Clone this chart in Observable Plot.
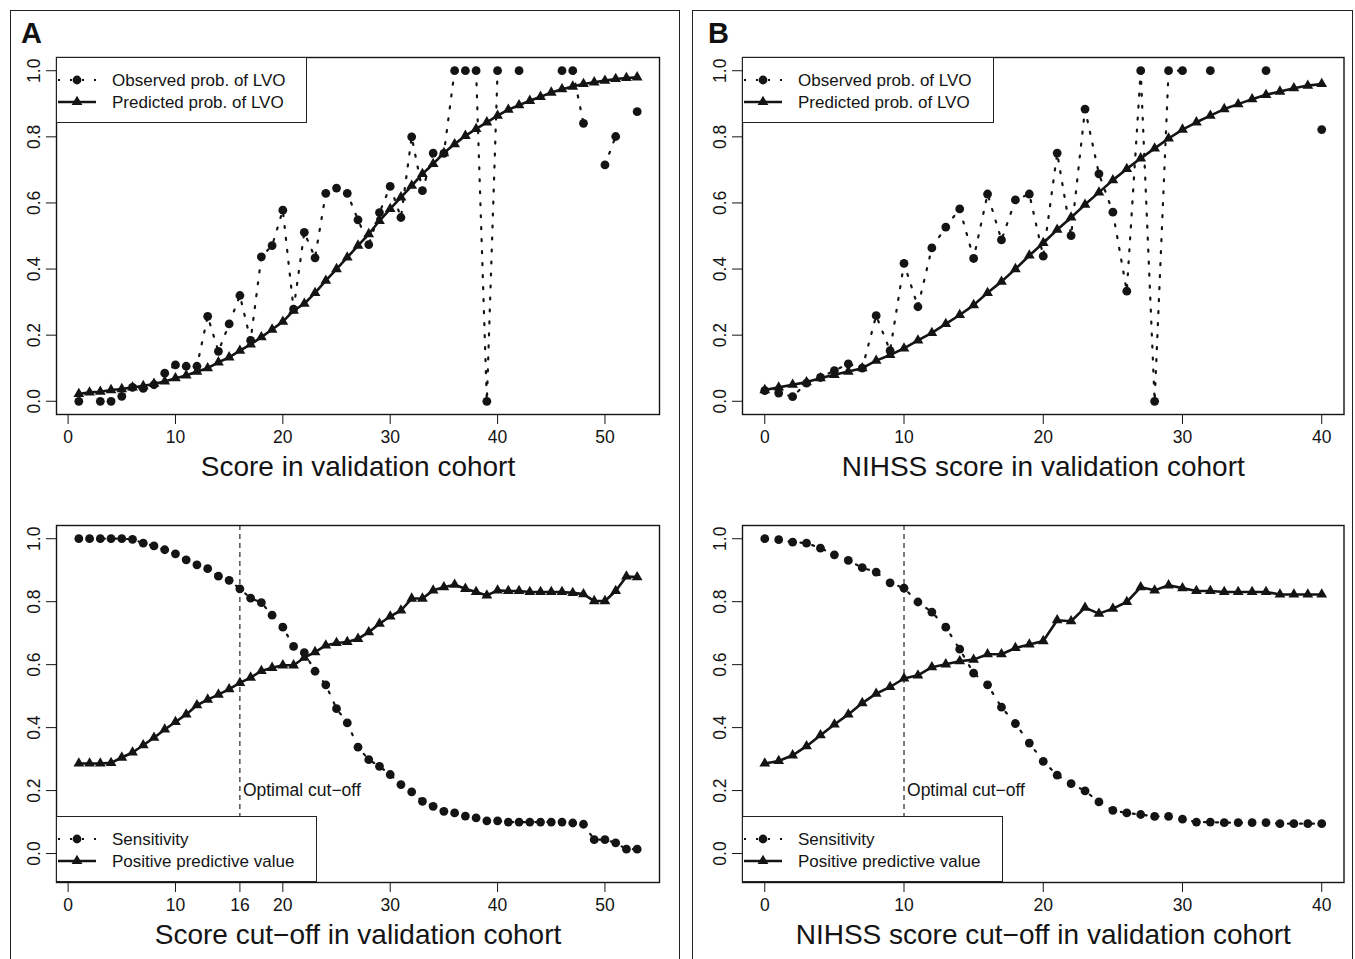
<!DOCTYPE html>
<html>
<head>
<meta charset="utf-8">
<script src="https://cdn.jsdelivr.net/npm/d3@7"></script>
<script src="https://cdn.jsdelivr.net/npm/@observablehq/plot@0.6"></script>
<style>
  html, body { margin: 0; padding: 0; background: #fff; }
  #root { position: relative; width: 1355px; height: 959px; overflow: hidden; font-family: "Liberation Sans", Arial, Helvetica, sans-serif; color: #111; }
  #root svg.plot { position: absolute; }
  .outer { position: absolute; border: 1.4px solid #222; border-bottom: none; box-sizing: border-box; }
  .tag { position: absolute; font-weight: bold; font-size: 29px; line-height: 1; }
  .legend { position: absolute; background: #fff; border: 1.3px solid #222; box-sizing: border-box; }
</style>
</head>
<body>
<div id="root"></div>
<script>
// ---------------- data ----------------
// Panel A (Score)
const scoreA = [1,2,3,4,5,6,7,8,9,10,11,12,13,14,15,16,17,18,19,20,21,22,23,24,25,26,27,28,29,30,31,32,33,34,35,36,37,38,39,40,41,42,43,44,45,46,47,48,49,50,51,52,53];
const observedA = [0.0,null,0.0,0.0,0.015,0.042,0.039,0.05,0.085,0.110,0.106,0.106,0.257,0.151,0.234,0.320,0.184,0.437,0.471,0.578,0.279,0.511,0.434,0.629,0.645,0.629,0.549,0.474,0.571,0.650,0.556,0.800,0.637,0.751,0.750,1,1,1,0,1,null,1,null,null,null,1,1,0.841,null,0.715,0.801,null,0.876];
const predictedA = [0.022,0.027,0.029,0.034,0.037,0.042,0.046,0.053,0.060,0.070,0.078,0.090,0.100,0.118,0.133,0.153,0.172,0.194,0.217,0.241,0.274,0.295,0.328,0.365,0.400,0.435,0.471,0.506,0.546,0.582,0.617,0.652,0.688,0.718,0.751,0.778,0.803,0.824,0.844,0.864,0.882,0.896,0.909,0.921,0.934,0.944,0.952,0.960,0.965,0.970,0.975,0.978,0.980];
const sensitivityA = [1,1,1,1,1,0.998,0.986,0.977,0.965,0.952,0.933,0.917,0.905,0.881,0.868,0.841,0.811,0.797,0.757,0.719,0.658,0.638,0.579,0.536,0.460,0.415,0.338,0.298,0.277,0.251,0.219,0.196,0.166,0.150,0.134,0.129,0.119,0.113,0.104,0.104,0.100,0.100,0.100,0.100,0.100,0.100,0.097,0.093,0.044,0.044,0.034,0.014,0.014];
const ppvA = [0.286,0.286,0.286,0.288,0.305,0.321,0.344,0.368,0.394,0.418,0.442,0.471,0.489,0.505,0.522,0.542,0.559,0.580,0.590,0.598,0.598,0.622,0.640,0.661,0.669,0.672,0.682,0.703,0.730,0.753,0.772,0.810,0.810,0.836,0.846,0.854,0.841,0.831,0.820,0.836,0.834,0.834,0.831,0.831,0.831,0.831,0.828,0.824,0.802,0.802,0.834,0.880,0.878];
const cutoffA = 16;
const xTicksA = [0,10,20,30,40,50];
const xTicksCutA = [0,10,16,20,30,40,50];

// Panel B (NIHSS)
const scoreB = [0,1,2,3,4,5,6,7,8,9,10,11,12,13,14,15,16,17,18,19,20,21,22,23,24,25,26,27,28,29,30,31,32,33,34,35,36,37,38,39,40];
const observedB = [0.032,0.025,0.014,0.055,0.072,0.093,0.113,0.100,0.259,0.153,0.417,0.286,0.464,0.527,0.582,0.432,0.627,0.488,0.609,0.627,0.439,0.751,0.501,0.884,0.688,0.572,0.333,1,0,1,1,null,1,null,null,null,1,null,null,null,0.822];
const predictedB = [0.034,0.042,0.050,0.058,0.070,0.080,0.090,0.100,0.123,0.140,0.160,0.184,0.207,0.234,0.261,0.291,0.328,0.362,0.400,0.441,0.479,0.519,0.556,0.595,0.632,0.669,0.703,0.735,0.765,0.795,0.822,0.844,0.864,0.884,0.899,0.914,0.927,0.937,0.947,0.955,0.960];
const sensitivityB = [1.0,0.997,0.989,0.986,0.970,0.949,0.931,0.908,0.894,0.860,0.843,0.799,0.767,0.719,0.649,0.573,0.536,0.465,0.413,0.351,0.293,0.249,0.222,0.199,0.164,0.137,0.129,0.124,0.118,0.118,0.109,0.100,0.100,0.098,0.098,0.098,0.098,0.095,0.095,0.095,0.095];
const ppvB = [0.286,0.294,0.312,0.341,0.376,0.410,0.442,0.478,0.508,0.529,0.556,0.566,0.592,0.601,0.611,0.616,0.633,0.633,0.653,0.664,0.675,0.741,0.738,0.781,0.762,0.778,0.799,0.846,0.836,0.852,0.843,0.834,0.834,0.831,0.831,0.831,0.831,0.823,0.823,0.823,0.823];
const cutoffB = 10;
const xTicksB = [0,10,20,30,40];

const yTicks = [0,0.2,0.4,0.6,0.8,1.0];
const cutLabelY = 0.2;
const cutLabel = "Optimal cut\u2212off";
const titles = {
  aTop: "Score in validation cohort",
  aBot: "Score cut\u2212off in validation cohort",
  bTop: "NIHSS score in validation cohort",
  bBot: "NIHSS score cut\u2212off in validation cohort"
};
const legendTop = ["Observed prob. of LVO", "Predicted prob. of LVO"];
const legendBot = ["Sensitivity", "Positive predictive value"];

// ---------------- drawing ----------------
const INK = "#141414";
const DOTTED = "2,10";
const FONT = '"Liberation Sans", Arial, Helvetica, sans-serif';
const TICKFONT = 17.5;
const root = document.getElementById("root");

function rows(xs, a, b) { return xs.map((x, i) => ({x, a: a[i] == null ? NaN : a[i], b: b[i] == null ? NaN : b[i]})); }

function panel(o) {
  const data = rows(o.xs, o.a, o.b);
  const marks = [
    Plot.axisX({ticks: o.xTicks, tickSize: 10, tickPadding: 6, fontSize: TICKFONT, label: null, tickFormat: d => String(d), stroke: INK, fill: INK}),
    Plot.axisY({ticks: yTicks, tickSize: 10, tickFormat: () => "", label: null, stroke: INK}),
    Plot.text(yTicks, {y: d => d, text: d => d.toFixed(1), frameAnchor: "left", textAnchor: "middle", lineAnchor: "middle", dx: -22, rotate: -90, fontSize: TICKFONT, fill: INK}),
    Plot.text([o.title], {frameAnchor: "bottom", textAnchor: "middle", lineAnchor: "middle", dy: 53, text: d => d, fontSize: 28, fill: INK})
  ];
  if (o.cutoff != null) {
    marks.push(Plot.ruleX([o.cutoff], {stroke: INK, strokeWidth: 1.1, strokeDasharray: "5,4"}));
    marks.push(Plot.text([{x: o.cutoff, y: cutLabelY}], {x: "x", y: "y", text: () => cutLabel, textAnchor: "start", lineAnchor: "middle", dx: 3, fontSize: 17.5, fill: INK}));
  }
  marks.push(
    Plot.line(data, {x: "x", y: "a", stroke: INK, strokeWidth: 2.2, strokeDasharray: DOTTED}),
    Plot.line(data, {x: "x", y: "b", stroke: INK, strokeWidth: 2.6}),
    Plot.dot(data, {x: "x", y: "a", r: 4.4, fill: INK, stroke: "none"}),
    Plot.dot(data, {x: "x", y: "b", r: 4, symbol: "triangle", fill: INK, stroke: "none"}),
    Plot.frame({stroke: INK, strokeWidth: 1.4})
  );
  const svg = Plot.plot({
    width: o.width, height: o.height,
    marginLeft: o.mL, marginRight: o.mR, marginTop: o.mT, marginBottom: o.mB,
    x: {domain: o.xDom},
    y: {domain: o.yDom},
    style: {fontFamily: FONT, fontSize: TICKFONT + "px", color: INK, background: "transparent", overflow: "visible"},
    marks
  });
  svg.classList.add("plot");
  svg.style.left = o.left + "px";
  svg.style.top = o.top + "px";
  root.appendChild(svg);
}

function legend(left, top, width, labels) {
  const div = document.createElement("div");
  div.className = "legend";
  Object.assign(div.style, {left: left + "px", top: top + "px", width: width + "px", height: "66px"});
  const ns = "http://www.w3.org/2000/svg";
  const s = document.createElementNS(ns, "svg");
  s.setAttribute("width", width); s.setAttribute("height", 66);
  s.style.position = "absolute"; s.style.left = "-1px"; s.style.top = "-1px"; s.style.overflow = "visible";
  const rowsY = [23, 45];
  rowsY.forEach((ry, i) => {
    const l = document.createElementNS(ns, "line");
    l.setAttribute("x1", 2); l.setAttribute("x2", 40); l.setAttribute("y1", ry); l.setAttribute("y2", ry);
    l.setAttribute("stroke", INK);
    if (i === 0) { l.setAttribute("stroke-width", 2.2); l.setAttribute("stroke-dasharray", DOTTED); }
    else l.setAttribute("stroke-width", 2.6);
    s.appendChild(l);
    const p = d3.symbol(i === 0 ? d3.symbolCircle : d3.symbolTriangle, i === 0 ? Math.PI * 4.4 * 4.4 : Math.PI * 16)();
    const path = document.createElementNS(ns, "path");
    path.setAttribute("d", p); path.setAttribute("transform", `translate(21,${ry})`); path.setAttribute("fill", INK);
    s.appendChild(path);
    const t = document.createElementNS(ns, "text");
    t.setAttribute("x", 56); t.setAttribute("y", ry); t.setAttribute("dy", "0.35em");
    t.setAttribute("font-size", 17); t.setAttribute("fill", INK);
    t.setAttribute("font-family", FONT);
    t.textContent = labels[i];
    s.appendChild(t);
  });
  div.appendChild(s);
  root.appendChild(div);
}

// outer boxes and tags
[[10, 670], [692, 661]].forEach(([l, w]) => {
  const d = document.createElement("div");
  d.className = "outer";
  Object.assign(d.style, {left: l + "px", top: "10px", width: w + "px", height: "960px"});
  root.appendChild(d);
});
[["A", 21], ["B", 708]].forEach(([t, l]) => {
  const d = document.createElement("div");
  d.className = "tag"; d.textContent = t;
  Object.assign(d.style, {left: l + "px", top: "19px"});
  root.appendChild(d);
});

const domA = [-1.08, 55.08], domB = [-1.6, 41.6];
const yDomTop = [-0.04, 1.04], yDomBot = [-0.092, 1.042];

panel({left: 0, top: 0, width: 680, height: 490, mL: 56, mR: 21, mT: 57, mB: 76,
  xDom: domA, yDom: yDomTop, xs: scoreA, a: observedA, b: predictedA, xTicks: xTicksA, title: titles.aTop});
panel({left: 680, top: 0, width: 675, height: 490, mL: 62, mR: 11.5, mT: 57, mB: 76,
  xDom: domB, yDom: yDomTop, xs: scoreB, a: observedB, b: predictedB, xTicks: xTicksB, title: titles.bTop});
panel({left: 0, top: 490, width: 680, height: 469, mL: 56, mR: 21, mT: 35, mB: 77,
  xDom: domA, yDom: yDomBot, xs: scoreA, a: sensitivityA, b: ppvA, xTicks: xTicksCutA, title: titles.aBot, cutoff: cutoffA});
panel({left: 680, top: 490, width: 675, height: 469, mL: 62, mR: 11.5, mT: 35, mB: 77,
  xDom: domB, yDom: yDomBot, xs: scoreB, a: sensitivityB, b: ppvB, xTicks: xTicksB, title: titles.bBot, cutoff: cutoffB});

legend(56, 57, 251, legendTop);
legend(742, 57, 252, legendTop);
legend(56, 816, 261, legendBot);
legend(742, 816, 261, legendBot);
</script>
</body>
</html>
